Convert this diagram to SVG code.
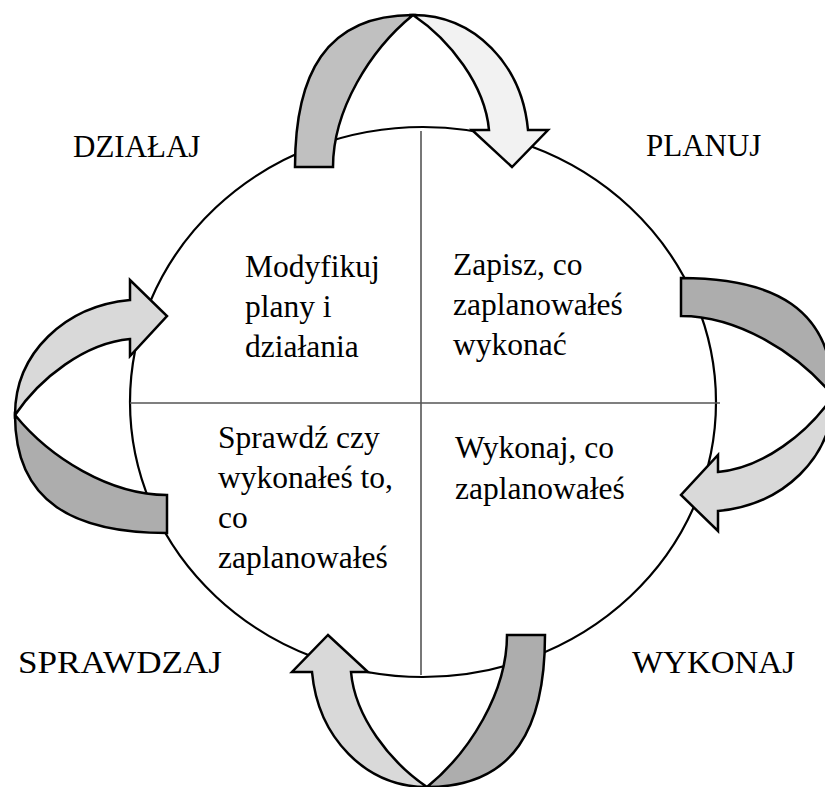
<svg xmlns="http://www.w3.org/2000/svg" xmlns:xlink="http://www.w3.org/1999/xlink" width="825" height="787" viewBox="0 0 825 787">
  <style>
    .ring { fill: none; stroke: #000; stroke-width: 2.2; }
    .divider { stroke: #555; stroke-width: 1.6; }
    .band { stroke: #000; stroke-width: 2.5; stroke-linejoin: miter; }
    .dark { fill: #adadad; }
    .light { fill: #d9d9d9; }
    .dark-top { fill: #c0c0c0; }
    .light-top { fill: #f2f2f2; }
    text { font-family: "Liberation Serif", "Times New Roman", serif; fill: #000; }
    .phase { font-size: 31px; }
    .task { font-size: 31.5px; }
  </style>
  <defs>
    <!-- one curved ribbon arrow, drawn pointing clockwise over the top of the ring -->
    <path id="arrow-tail" d="M295,167 C295,75 325,15 413,15 C370,50 333,110 333,167 Z"/>
    <path id="arrow-head" d="M413,15 C475,15 522,65 528,130 L548,130 L512,167 L472,130 L489,130 C485,85 450,40 413,15 Z"/>
  </defs>

  <!-- the cycle ring split into four quarters -->
  <g id="cycle">
    <ellipse class="ring" cx="423" cy="402" rx="293" ry="275"/>
    <line class="divider" x1="130" y1="403" x2="720" y2="403"/>
    <line class="divider" x1="421" y1="131" x2="421" y2="675"/>
  </g>

  <!-- connectors: curved arrows between the phases -->
  <g id="connectors">
    <g id="arrow-plan">
      <use xlink:href="#arrow-tail" href="#arrow-tail" class="band dark-top"/>
      <use xlink:href="#arrow-head" href="#arrow-head" class="band light-top"/>
    </g>
    <g id="arrow-do" transform="translate(848,-17) rotate(90)">
      <use xlink:href="#arrow-tail" href="#arrow-tail" class="band dark"/>
      <use xlink:href="#arrow-head" href="#arrow-head" class="band light"/>
    </g>
    <g id="arrow-check" transform="translate(840,802) rotate(180)">
      <use xlink:href="#arrow-tail" href="#arrow-tail" class="band dark"/>
      <use xlink:href="#arrow-head" href="#arrow-head" class="band light"/>
    </g>
    <g id="arrow-act" transform="translate(0,828) rotate(-90)">
      <use xlink:href="#arrow-tail" href="#arrow-tail" class="band dark"/>
      <use xlink:href="#arrow-head" href="#arrow-head" class="band light"/>
    </g>
  </g>

  <!-- phase names -->
  <g id="label-act"><text class="phase" x="73" y="157">DZIAŁAJ</text></g>
  <g id="label-plan"><text class="phase" x="646" y="156">PLANUJ</text></g>
  <g id="label-check"><text class="phase" x="18" y="673" textLength="204" lengthAdjust="spacingAndGlyphs">SPRAWDZAJ</text></g>
  <g id="label-do"><text class="phase" x="632" y="673" textLength="163" lengthAdjust="spacingAndGlyphs">WYKONAJ</text></g>

  <!-- quarter descriptions -->
  <g id="task-act">
    <text class="task" x="245" y="277">Modyfikuj</text>
    <text class="task" x="245" y="317">plany i</text>
    <text class="task" x="245" y="357">działania</text>
  </g>
  <g id="task-plan">
    <text class="task" x="453" y="275">Zapisz, co</text>
    <text class="task" x="453" y="315">zaplanowałeś</text>
    <text class="task" x="453" y="355">wykonać</text>
  </g>
  <g id="task-check">
    <text class="task" x="218" y="448">Sprawdź czy</text>
    <text class="task" x="218" y="488">wykonałeś to,</text>
    <text class="task" x="218" y="528">co</text>
    <text class="task" x="218" y="568">zaplanowałeś</text>
  </g>
  <g id="task-do">
    <text class="task" x="455" y="458">Wykonaj, co</text>
    <text class="task" x="455" y="499">zaplanowałeś</text>
  </g>
</svg>
